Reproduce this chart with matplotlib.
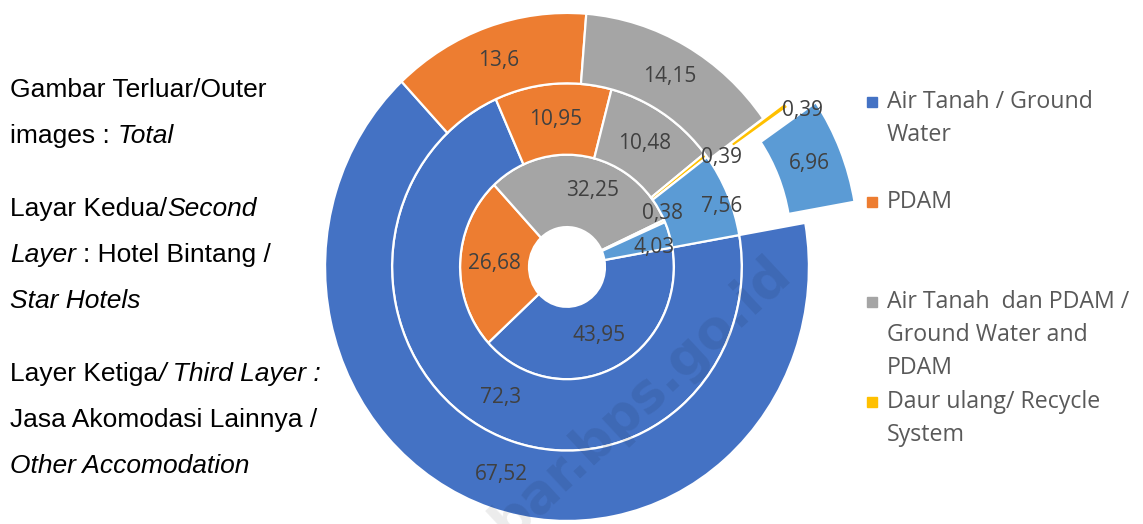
import numpy as np
import matplotlib
matplotlib.use("Agg")
import matplotlib.pyplot as plt
from matplotlib.patches import Rectangle

# data (inner -> outer ring)
legend_labels = ["Air Tanah / Ground\nWater", "PDAM",
                 "Air Tanah  dan PDAM /\nGround Water and\nPDAM",
                 "Daur ulang/ Recycle\nSystem"]
inner_values = [43.95, 26.68, 32.25, 0.38, 4.03]    # Jasa Akomodasi Lainnya
middle_values = [72.3, 10.95, 10.48, 0.39, 7.56]    # Hotel Bintang
outer_values = [67.52, 13.6, 14.15, 0.39, 6.96]     # Total
colors = ["#4472C4", "#ED7D31", "#A5A5A5", "#FFC000", "#5B9BD5"]

W, H = 1143, 524
fig = plt.figure(figsize=(W / 100, H / 100), dpi=100)
renderer = fig.canvas.get_renderer()

ax = fig.add_axes([0.2209, 0, 0.5503, 1])

rings = [
    (inner_values, 0.442, 0.285, [0, 0, 0, 0, 0]),
    (middle_values, 0.723, 0.281, [0, 0, 0, 0, 0]),
    (outer_values, 1.0, 0.277, [0, 0, 0, 0.11, 0.22]),
]

# some labels get nudged (radius, angle) like Excel places them
label_shift = {(0, 2): (0.02, -8), (0, 3): (0.15, 4), (0, 4): (0.07, -4.5),
               (1, 3): (0.19, -3.5), (1, 4): (0.1, -3), (2, 3): (0.18, -3)}


def fmt(v):
    return f"{v:g}".replace(".", ",")


for i, (vals, rad, width, expl) in enumerate(rings):
    wedges, _ = ax.pie(vals, radius=rad, colors=colors, startangle=10,
                       counterclock=False, explode=expl,
                       wedgeprops=dict(width=width, edgecolor="white", linewidth=1.6))
    for j, w in enumerate(wedges):
        dr, dth = label_shift.get((i, j), (0, 0))
        th = np.deg2rad((w.theta1 + w.theta2) / 2 + dth)
        r = w.r - w.width / 2 + dr
        cx, cy = w.center
        ax.text(cx + r * np.cos(th), cy + r * np.sin(th), fmt(vals[j]),
                ha="center", va="center", fontsize=15, color="#404040",
                family="Open Sans")

ax.set_aspect("auto")
ax.set_xlim(-1.3, 1.3)
ax.set_ylim(-1.012, 1.051)
ax.axis("off")

# watermark
fig.text(651 / W, 1 - 409 / H, "bar.bps.go.id", fontsize=38, fontweight="bold",
         color="black", alpha=0.08, rotation=43, rotation_mode="anchor",
         ha="center", va="baseline")

# legend
for k, lab in enumerate(legend_labels):
    y0 = 102 + 100 * k
    fig.patches.append(Rectangle((867 / W, 1 - (y0 + 5) / H), 10 / W, 10 / H,
                                 transform=fig.transFigure, color=colors[k]))
    for n, line in enumerate(lab.split("\n")):
        fig.text(887 / W, 1 - (y0 + 33 * n) / H, line, fontsize=16.7,
                 color="#595959", family="Open Sans", va="center")

# left description text
paragraphs = [
    [[("Gambar Terluar/Outer", "normal")],
     [("images :", "normal"), (" ", None), ("Total", "italic")]],
    [[("Layar Kedua/", "normal"), ("Second", "italic")],
     [("Layer", "italic"), (" ", None), (": Hotel Bintang /", "normal")],
     [("Star Hotels", "italic")]],
    [[("Layer Ketiga", "normal"), ("/ Third Layer :", "italic")],
     [("Jasa Akomodasi Lainnya /", "normal")],
     [("Other Accomodation", "italic")]],
]
fs = 19
probe = fig.text(0, 0, "a a", fontsize=fs, family="Liberation Sans")
probe2 = fig.text(0, 0, "aa", fontsize=fs, family="Liberation Sans")
space_w = probe.get_window_extent(renderer).width - probe2.get_window_extent(renderer).width
probe.remove()
probe2.remove()

y = 90
for para in paragraphs:
    for line in para:
        x = 10
        for s, style in line:
            if style is None:
                x += space_w
                continue
            t = fig.text(x / W, 1 - y / H, s, fontsize=fs, style=style,
                         family="Liberation Sans", color="black", va="center")
            x += t.get_window_extent(renderer).width
        y += 46
    y += 27

fig.savefig("out.png", dpi=100)
